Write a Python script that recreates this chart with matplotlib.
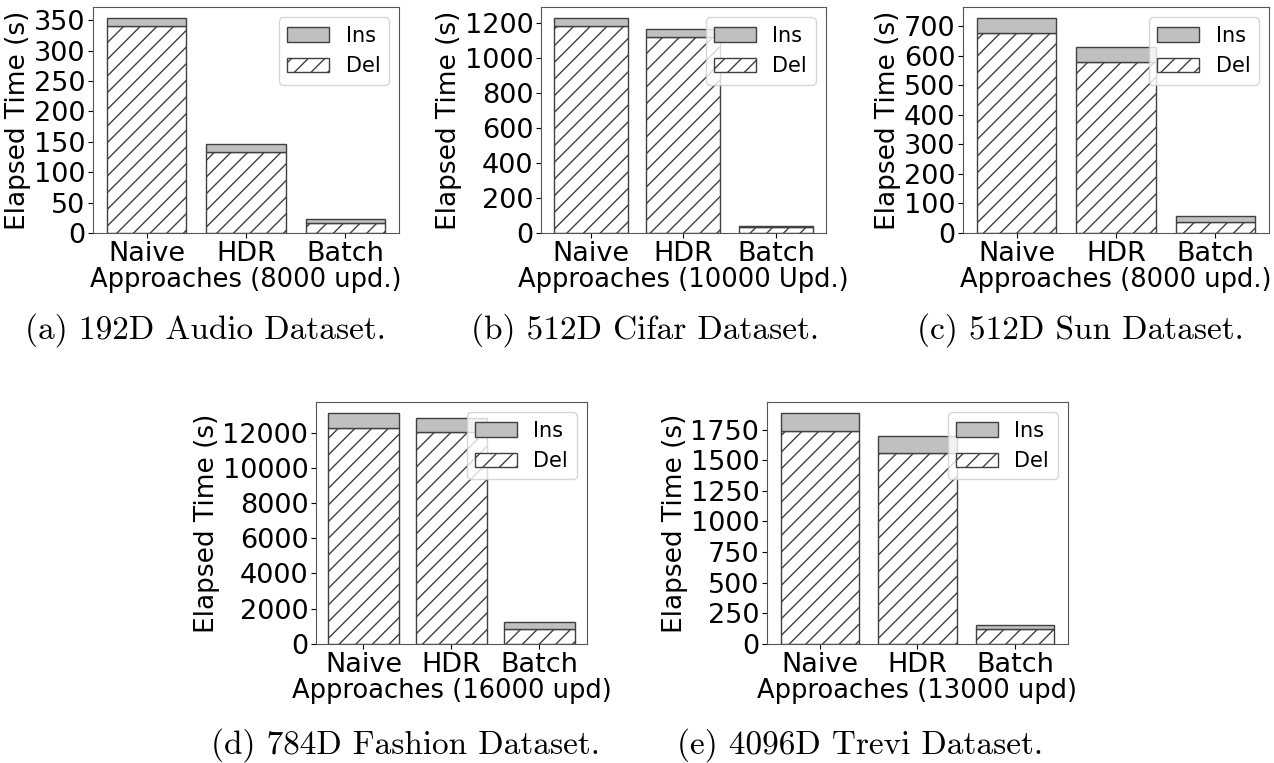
import matplotlib
matplotlib.use('Agg')
import matplotlib.pyplot as plt
from matplotlib.ticker import MultipleLocator
import numpy as np

# Yaklaşımlar (x ekseni)
approaches = ['Naive', 'HDR', 'Batch']

# Her veri seti için silme (Del) ve ekleme (Ins) süreleri (s)
audio_del = [340, 134, 17]
audio_ins = [14, 13, 6]

cifar_del = [1185, 1122, 32]
cifar_ins = [47, 47, 11]

sun_del = [675, 580, 38]
sun_ins = [53, 49, 18]

fashion_del = [12250, 12050, 870]
fashion_ins = [830, 760, 360]

trevi_del = [1734, 1557, 120]
trevi_ins = [147, 139, 35]

x_labels = ['Approaches (8000 upd.)', 'Approaches (10000 Upd.)', 'Approaches (8000 upd.)',
            'Approaches (16000 upd)', 'Approaches (13000 upd)']
captions = ['(a) 192D Audio Dataset.', '(b) 512D Cifar Dataset.', '(c) 512D Sun Dataset.',
            '(d) 784D Fashion Dataset.', '(e) 4096D Trevi Dataset.']
y_steps = [50, 200, 100, 2000, 250]

plt.rcParams['hatch.color'] = '#404040'
plt.rcParams['hatch.linewidth'] = 1.0

fig = plt.figure(figsize=(12.74, 7.63), dpi=100)

# panel konumlari [left, bottom, width, height]
panel_rects = [
    [0.0730, 0.6946, 0.2402, 0.2962],
    [0.4246, 0.6946, 0.2237, 0.2962],
    [0.7559, 0.6946, 0.2402, 0.2962],
    [0.2480, 0.1560, 0.2127, 0.3172],
    [0.6020, 0.1560, 0.2363, 0.3172],
]
caption_pos = [(205, 330), (645, 330), (1080, 330), (405, 745), (860, 745)]

dels = [audio_del, cifar_del, sun_del, fashion_del, trevi_del]
inss = [audio_ins, cifar_ins, sun_ins, fashion_ins, trevi_ins]

edge = '#404040'
for i in range(5):
    ax = fig.add_axes(panel_rects[i])
    x = np.arange(len(approaches))
    b_del = ax.bar(x, dels[i], width=0.8, color='white', edgecolor=edge, hatch='//', linewidth=1.0)
    b_ins = ax.bar(x, inss[i], width=0.8, bottom=dels[i], color='#c0c0c0', edgecolor=edge, linewidth=1.0)
    ax.set_xticks(x)
    ax.set_xticklabels(approaches)
    ax.yaxis.set_major_locator(MultipleLocator(y_steps[i]))
    ax.tick_params(labelsize=19.5, pad=2)
    ax.set_xlabel(x_labels[i], fontsize=18.5, labelpad=0)
    ax.set_ylabel('Elapsed Time (s)', fontsize=19, labelpad=2)
    for s in ax.spines.values():
        s.set_color('#555555')
    ax.legend([b_ins, b_del], ['Ins', 'Del'], loc='upper right', fontsize=15)

    cx, cy = caption_pos[i]
    fig.text(cx / 1274, 1 - cy / 763, captions[i], fontsize=24, family='cmr10',
             ha='center', va='center')

fig.savefig('out.png', dpi=100)
